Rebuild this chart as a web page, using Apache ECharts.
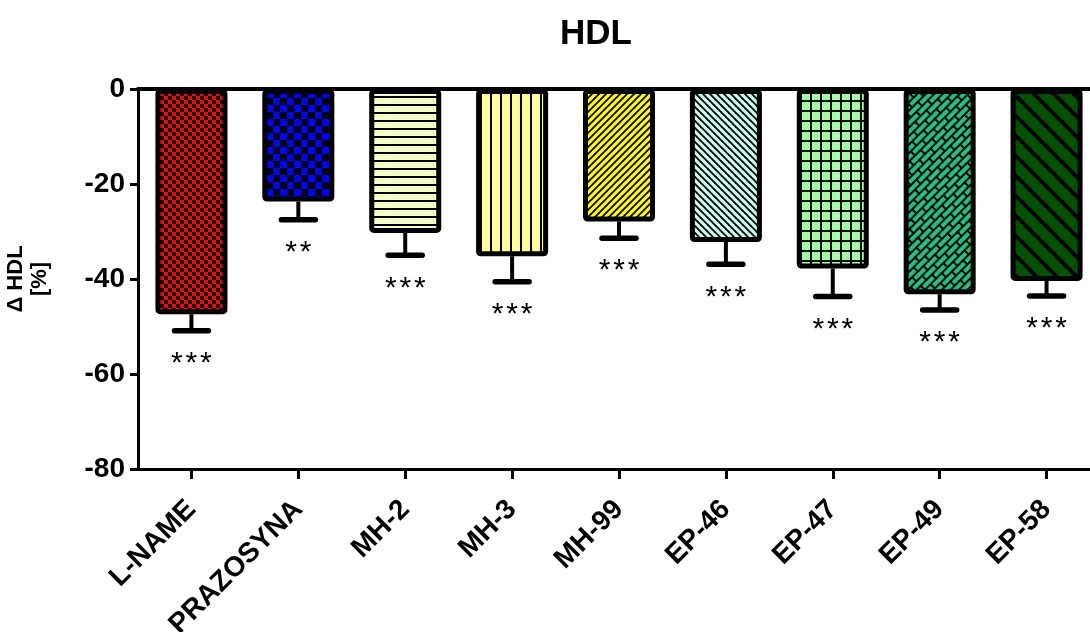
<!DOCTYPE html>
<html>
<head>
<meta charset="utf-8">
<script src="https://cdn.jsdelivr.net/npm/echarts@6/dist/echarts.min.js"></script>
<style>
  html, body { margin: 0; padding: 0; background: #fff; }
  #chart { width: 1090px; height: 632px; }
</style>
</head>
<body>
<div id="chart"></div>
<script>
// Change in HDL (%) per treatment group, mean with one-sided SEM
const categories = ['L-NAME', 'PRAZOSYNA', 'MH-2', 'MH-3', 'MH-99', 'EP-46', 'EP-47', 'EP-49', 'EP-58'];
const meanValues = [-47.4, -23.7, -30.3, -35.2, -27.9, -32.2, -37.8, -43.2, -40.4];
const semValues = [3.5, 3.8, 4.7, 5.4, 3.5, 4.7, 5.9, 3.3, 3.2];
const significance = ['***', '**', '***', '***', '***', '***', '***', '***', '***'];
const yTicks = [0, -20, -40, -60, -80];

const FONT = '"Liberation Sans", Arial, Helvetica, sans-serif';

// ---- fill patterns drawn on small repeating tiles ----
function tile(w, h, draw) {
  const c = document.createElement('canvas');
  c.width = w; c.height = h;
  const ctx = c.getContext('2d');
  draw(ctx, w, h);
  return c;
}
function checker(cell, fg) {
  return tile(cell * 2, cell * 2, (ctx, w, h) => {
    ctx.fillStyle = fg; ctx.fillRect(0, 0, w, h);
    ctx.fillStyle = '#000';
    ctx.fillRect(0, 0, cell, cell);
    ctx.fillRect(cell, cell, cell, cell);
  });
}
function hLines(step, bg, lw) {
  return tile(step, step, (ctx, w, h) => {
    ctx.fillStyle = bg; ctx.fillRect(0, 0, w, h);
    ctx.fillStyle = '#000'; ctx.fillRect(0, 0, w, lw);
  });
}
function vLines(step, bg, lw) {
  return tile(step, step, (ctx, w, h) => {
    ctx.fillStyle = bg; ctx.fillRect(0, 0, w, h);
    ctx.fillStyle = '#000'; ctx.fillRect(0, 0, lw, h);
  });
}
function gridLines(step, bg, lw) {
  return tile(step, step, (ctx, w, h) => {
    ctx.fillStyle = bg; ctx.fillRect(0, 0, w, h);
    ctx.fillStyle = '#000';
    ctx.fillRect(0, 0, lw, h);
    ctx.fillRect(0, 0, w, lw);
  });
}
function diag(step, bg, lw, rising) {
  return tile(step, step, (ctx, s) => {
    ctx.fillStyle = bg; ctx.fillRect(0, 0, s, s);
    ctx.strokeStyle = '#000'; ctx.lineWidth = lw; ctx.lineCap = 'square';
    for (let k = -1; k <= 1; k++) {
      ctx.beginPath();
      if (rising) { ctx.moveTo(k * s, s); ctx.lineTo(k * s + s, 0); }
      else { ctx.moveTo(k * s, 0); ctx.lineTo(k * s + s, s); }
      ctx.stroke();
    }
  });
}
function bricks(bg) {
  return tile(16, 12, (ctx, w, h) => {
    ctx.fillStyle = bg; ctx.fillRect(0, 0, w, h);
    ctx.fillStyle = '#000';
    ctx.fillRect(0, 0, w, 2);
    ctx.fillRect(0, 6, w, 2);
    ctx.fillRect(0, 0, 2, 6);
    ctx.fillRect(8, 6, 2, 6);
  });
}

const fills = [
  { image: checker(4, '#ff0000'), repeat: 'repeat' },
  { image: checker(7, '#0000ff'), repeat: 'repeat' },
  { image: hLines(8, '#f5fdc2', 2), repeat: 'repeat' },
  { image: vLines(10, '#ffff99', 2), repeat: 'repeat' },
  { image: diag(7, '#ffff00', 1.8, true), repeat: 'repeat' },
  { image: diag(7, '#c8fbee', 1.8, false), repeat: 'repeat' },
  { image: gridLines(10, '#a3ffa3', 2), repeat: 'repeat' },
  { image: bricks('#1cc282'), repeat: 'repeat', rotation: -Math.PI / 4 },
  { image: diag(20, '#005200', 4, false), repeat: 'repeat' }
];

const barData = meanValues.map((v, i) => ({
  value: v,
  itemStyle: { color: fills[i] }
}));
const errData = meanValues.map((v, i) => [i, v, semValues[i], i]);

const chart = echarts.init(document.getElementById('chart'));
chart.setOption({
  backgroundColor: '#fff',
  animation: false,
  title: {
    text: 'HDL',
    left: 555,
    top: 12,
    textStyle: { fontFamily: FONT, fontSize: 35, fontWeight: 'bold', color: '#000' }
  },
  grid: { left: 138, top: 89, width: 962, height: 380, outerBoundsMode: 'none', containLabel: false },
  xAxis: [
    {
      type: 'category',
      data: categories,
      position: 'bottom',
      axisLine: { show: true, onZero: false, lineStyle: { color: '#000', width: 3 } },
      axisTick: { show: true, alignWithLabel: true, length: 10, lineStyle: { color: '#000', width: 3 } },
      axisLabel: {
        rotate: 45, margin: 36, interval: 0,
        fontFamily: FONT, fontSize: 28, fontWeight: 'bold', color: '#000'
      },
      splitLine: { show: false }
    },
    {
      type: 'category',
      data: categories,
      position: 'top',
      axisLine: { show: true, onZero: false, lineStyle: { color: '#000', width: 4 } },
      axisTick: { show: false },
      axisLabel: { show: false }
    }
  ],
  yAxis: {
    type: 'value',
    min: -80, max: 0, interval: 20,
    name: 'Δ HDL\n[%]',
    nameLocation: 'middle',
    nameRotate: 90,
    nameGap: 86,
    nameMoveOverlap: false,
    nameTextStyle: { fontFamily: FONT, fontSize: 22, fontWeight: 'bold', color: '#000', lineHeight: 24, align: 'center' },
    axisLine: { show: true, lineStyle: { color: '#000', width: 3 } },
    axisTick: { show: true, length: 8, lineStyle: { color: '#000', width: 3 } },
    axisLabel: {
      margin: 13,
      fontFamily: FONT, fontSize: 28, fontWeight: 'bold', color: '#000',
      formatter: v => yTicks.includes(v) ? String(v) : ''
    },
    splitLine: { show: false }
  },
  series: [
    {
      type: 'bar',
      data: barData,
      barWidth: 72,
      itemStyle: { borderColor: '#000', borderWidth: 5, borderRadius: 2 },
      z: 2
    },
    {
      type: 'custom',
      data: errData,
      z: 3,
      renderItem: function (params, api) {
        const i = api.value(3);
        const top = api.coord([api.value(0), api.value(1)]);
        const end = api.coord([api.value(0), api.value(1) - api.value(2)]);
        const x = top[0];
        const children = [
          { type: 'line', shape: { x1: x, y1: top[1], x2: x, y2: end[1] },
            style: { stroke: '#000', lineWidth: 4 } },
          { type: 'line', shape: { x1: x - 17, y1: end[1], x2: x + 17, y2: end[1] },
            style: { stroke: '#000', lineWidth: 5.5, lineCap: 'round' } }
        ];
        // significance asterisks, one glyph each, centred under the cap
        const n = significance[i].length;
        const pitch = 14.5;
        for (let k = 0; k < n; k++) {
          children.push({
            type: 'text',
            x: x + (k - (n - 1) / 2) * pitch,
            y: end[1] + 33,
            style: {
              text: '*', fill: '#000', font: 'normal 30px ' + FONT,
              align: 'center', verticalAlign: 'middle'
            }
          });
        }
        return { type: 'group', children: children };
      }
    }
  ]
});
</script>
</body>
</html>
